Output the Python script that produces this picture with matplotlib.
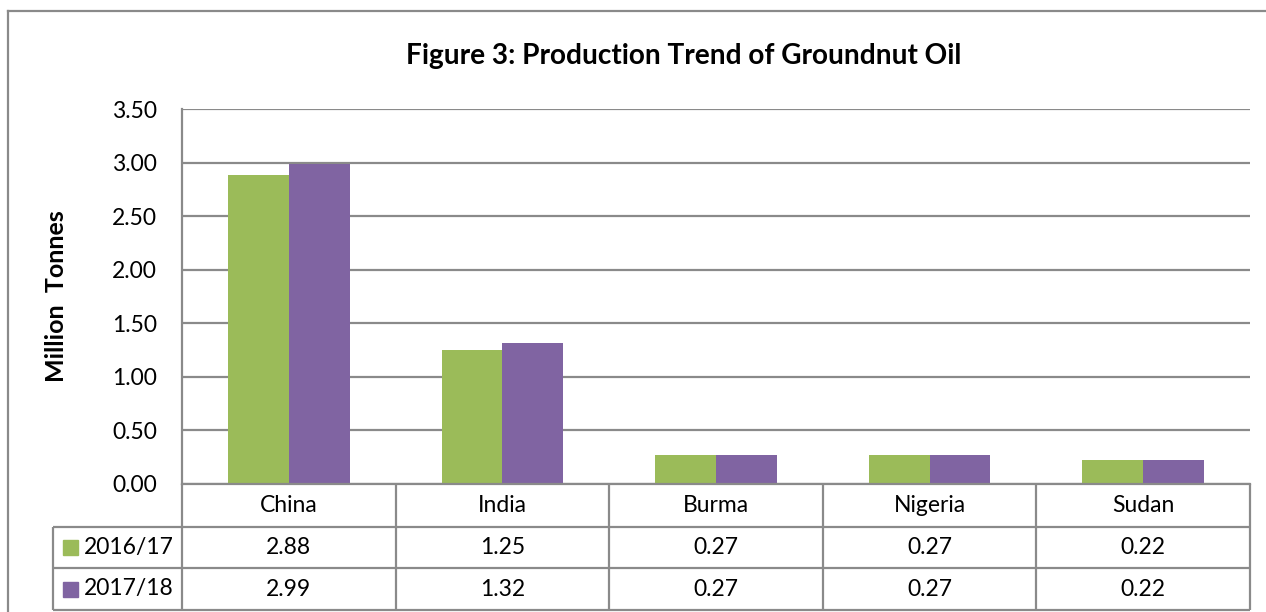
import matplotlib
matplotlib.use("Agg")
import matplotlib.pyplot as plt
import numpy as np

plt.rcParams["font.family"] = ["Lato", "DejaVu Sans"]

# data
countries = ["China", "India", "Burma", "Nigeria", "Sudan"]
seasons = ["2016/17", "2017/18"]
prod_2016 = [2.88, 1.25, 0.27, 0.27, 0.22]
prod_2017 = [2.99, 1.32, 0.27, 0.27, 0.22]
yticks = [0.0, 0.5, 1.0, 1.5, 2.0, 2.5, 3.0, 3.5]

GREEN = "#9bbb59"
PURPLE = "#8064a2"
LINE = "#8a8a8a"
W, H = 1266, 612
FS = 16.5

fig = plt.figure(figsize=(W / 100, H / 100), dpi=100)

# plot area in pixel box
left, right, top, bottom = 182, 1250, 109, 484
ax = fig.add_axes((left / W, 1 - bottom / H, (right - left) / W, (bottom - top) / H))

x = np.arange(len(countries))
bw = 0.285
ax.bar(x - bw / 2, prod_2016, width=bw, color=GREEN, zorder=3)
ax.bar(x + bw / 2, prod_2017, width=bw, color=PURPLE, zorder=3)

ax.set_xlim(-0.5, len(countries) - 0.5)
ax.set_ylim(0, 3.5)
ax.set_yticks(yticks)
ax.set_yticklabels([f"{v:.2f}" for v in yticks], fontsize=FS)
ax.set_xticks([])
ax.tick_params(axis="y", length=0, pad=18)
ax.grid(axis="y", color=LINE, linewidth=1.6, zorder=0)
for side in ("top", "right"):
    ax.spines[side].set_visible(False)
for side in ("left", "bottom"):
    ax.spines[side].set_color(LINE)
    ax.spines[side].set_linewidth(1.6)
ax.spines["bottom"].set_zorder(5)

# rotated label is anchored at its right edge
ax.set_ylabel("Million  Tonnes", fontsize=18, fontweight="bold")
ax.yaxis.set_label_coords((68 - left) / (right - left), 0.5)

# overlay in pixel coordinates: frame, title, data table
ov = fig.add_axes((0, 0, 1, 1), zorder=-1)
ov.set_xlim(0, W)
ov.set_ylim(H, 0)
ov.axis("off")

ov.plot([8, W], [10.5, 10.5], color=LINE, lw=1.6)
ov.plot([8, 8], [10.5, H], color=LINE, lw=1.6)

ov.text(684, 56, "Figure 3: Production Trend of Groundnut Oil",
        ha="center", va="center", fontsize=20.2, fontweight="bold")

ov2 = fig.add_axes((0, 0, 1, 1), zorder=4)
ov2.set_xlim(0, W)
ov2.set_ylim(H, 0)
ov2.axis("off")
ov2.patch.set_alpha(0)

col_w = (right - left) / len(countries)
rows = [484, 527, 568, 610]
leg_left = 53
tk = dict(color=LINE, lw=1.6, solid_capstyle="butt")
for i in range(len(countries) + 1):
    xx = left + i * col_w
    ov2.plot([xx, xx], [rows[0], rows[-1]], **tk)
for yy in rows[1:]:
    ov2.plot([leg_left, right], [yy, yy], **tk)
ov2.plot([leg_left, leg_left], [rows[1], rows[-1]], **tk)

for i, name in enumerate(countries):
    cx = left + (i + 0.5) * col_w
    ov2.text(cx, (rows[0] + rows[1]) / 2, name, ha="center", va="center", fontsize=FS)
    ov2.text(cx, (rows[1] + rows[2]) / 2, f"{prod_2016[i]:.2f}", ha="center", va="center", fontsize=FS)
    ov2.text(cx, (rows[2] + rows[3]) / 2, f"{prod_2017[i]:.2f}", ha="center", va="center", fontsize=FS)

for r, (label, col) in enumerate(zip(seasons, [GREEN, PURPLE])):
    cy = (rows[r + 1] + rows[r + 2]) / 2
    ov2.add_patch(plt.Rectangle((63, cy - 7.5), 15, 15, color=col))
    ov2.text(84, cy, label, ha="left", va="center", fontsize=FS)

fig.savefig("out.png", dpi=100)
